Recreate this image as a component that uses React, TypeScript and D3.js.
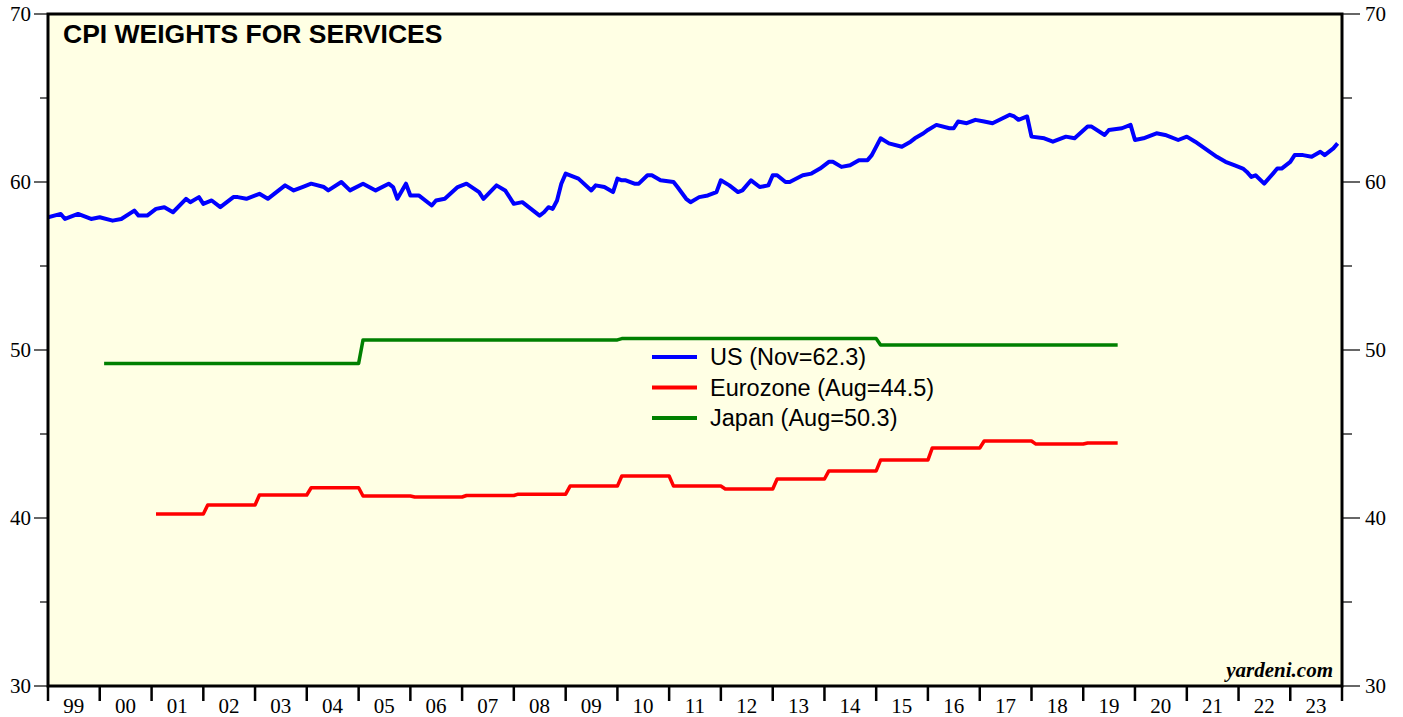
import React from "react";
import * as d3 from "d3";

// ---- DATA ----
const usDates = [
  "1998-12","1999-03","1999-04","1999-07","1999-10","1999-12","2000-03","2000-05","2000-08","2000-09","2000-11",
  "2001-01","2001-03","2001-05","2001-08","2001-09","2001-11","2001-12","2002-02","2002-04","2002-07","2002-08","2002-10",
  "2003-01","2003-03","2003-07","2003-09","2003-11","2004-01","2004-04","2004-05","2004-08","2004-10",
  "2005-01","2005-04","2005-07","2005-08","2005-09","2005-11","2005-12","2006-02","2006-05","2006-06","2006-08","2006-11",
  "2007-01","2007-04","2007-05","2007-08","2007-10","2007-12","2008-02","2008-06","2008-07","2008-08","2008-09","2008-10","2008-11","2008-12",
  "2009-01","2009-03","2009-06","2009-07","2009-09","2009-11","2009-12","2010-01","2010-02","2010-04","2010-05","2010-07","2010-08","2010-10",
  "2011-01","2011-02","2011-04","2011-05","2011-07","2011-09","2011-11","2011-12","2012-02","2012-04","2012-05","2012-07","2012-09","2012-11","2012-12",
  "2013-01","2013-03","2013-04","2013-07","2013-09","2013-11","2014-01","2014-02","2014-04","2014-06","2014-08","2014-10","2014-11",
  "2015-01","2015-03","2015-06","2015-08","2015-09","2015-11","2015-12","2016-02","2016-05","2016-06","2016-07","2016-09","2016-11",
  "2017-01","2017-03","2017-07","2017-08","2017-09","2017-11","2017-12","2018-03","2018-05","2018-08","2018-10",
  "2019-01","2019-02","2019-05","2019-06","2019-09","2019-11","2019-12","2020-02","2020-05","2020-07","2020-10","2020-12",
  "2021-02","2021-07","2021-09","2021-11","2022-01","2022-02","2022-03","2022-04","2022-06","2022-08","2022-09","2022-10","2022-12",
  "2023-01","2023-03","2023-05","2023-07","2023-08","2023-10","2023-11"
];
const usValues = [
  57.9,58.1,57.8,58.1,57.8,57.9,57.7,57.8,58.3,58.0,58.0,
  58.4,58.5,58.2,59.0,58.8,59.1,58.7,58.9,58.5,59.1,59.1,59.0,
  59.3,59.0,59.8,59.5,59.7,59.9,59.7,59.5,60.0,59.5,
  59.9,59.5,59.9,59.7,59.0,59.9,59.2,59.2,58.6,58.9,59.0,59.7,
  59.9,59.4,59.0,59.8,59.5,58.7,58.8,58.0,58.2,58.5,58.4,58.9,59.9,60.5,
  60.4,60.2,59.5,59.8,59.7,59.4,60.2,60.1,60.1,59.9,59.9,60.4,60.4,60.1,
  60.0,59.7,59.0,58.8,59.1,59.2,59.4,60.1,59.8,59.4,59.5,60.1,59.7,59.8,60.4,
  60.4,60.0,60.0,60.4,60.5,60.8,61.2,61.2,60.9,61.0,61.3,61.3,61.6,
  62.6,62.3,62.1,62.4,62.6,62.9,63.1,63.4,63.2,63.2,63.6,63.5,63.7,
  63.6,63.5,64.0,63.9,63.7,63.9,62.7,62.6,62.4,62.7,62.6,
  63.3,63.3,62.8,63.1,63.2,63.4,62.5,62.6,62.9,62.8,62.5,62.7,
  62.4,61.5,61.2,61.0,60.8,60.6,60.3,60.4,59.9,60.5,60.8,60.8,61.2,
  61.6,61.6,61.5,61.8,61.6,62.0,62.3
];

const euroStart = ["2001-01","2002-01","2003-01","2004-01","2005-01","2006-01","2007-01","2008-01","2009-01","2010-01","2011-01","2012-01","2013-01","2014-01","2015-01","2016-01","2017-01","2018-01","2019-01"];
const euroEnd = ["2001-12","2002-12","2003-12","2004-12","2005-12","2006-12","2007-12","2008-12","2009-12","2010-12","2011-12","2012-12","2013-12","2014-12","2015-12","2016-12","2017-12","2018-12","2019-08"];
const euroValues = [40.24,40.77,41.37,41.8,41.31,41.25,41.34,41.42,41.9,42.5,41.9,41.73,42.32,42.8,43.45,44.17,44.58,44.4,44.46];

const japanStart = ["2000-01","2005-01","2010-01","2015-01"];
const japanEnd = ["2004-12","2009-12","2014-12","2019-08"];
const japanValues = [49.2,50.6,50.68,50.3];

const yearLabels = ["99","00","01","02","03","04","05","06","07","08","09","10","11","12","13","14","15","16","17","18","19","20","21","22","23"];
const yTicks = [30,40,50,60,70];
const yMinor = [35,45,55,65];

const legendLabels = ["US (Nov=62.3)","Eurozone (Aug=44.5)","Japan (Aug=50.3)"];
const seriesColors = ["#0000ff","#ff0000","#008000"];

const title = "CPI WEIGHTS FOR SERVICES";
const source = "yardeni.com";

// ---- LAYOUT ----
const W = 1403, H = 717;
const L = 48, R = 1342, T = 14, B = 686;

const parse = d3.timeParse("%Y-%m");
const endOfMonth = (s: string) => d3.timeMonth.offset(parse(s) as Date, 1);

const x = d3.scaleTime().domain([new Date(1999, 0, 1), new Date(2024, 0, 1)]).range([L, R]);
const y = d3.scaleLinear().domain([30, 70]).range([B, T]);

type Pt = { d: Date; v: number };
const line = d3.line<Pt>().x(p => x(p.d)).y(p => y(p.v));

const usPts: Pt[] = usDates.map((s, i) => ({ d: endOfMonth(s), v: usValues[i] }));
const segPts = (starts: string[], ends: string[], vals: number[]): Pt[] => {
  const out: Pt[] = [];
  starts.forEach((s, i) => {
    out.push({ d: endOfMonth(s), v: vals[i] });
    out.push({ d: endOfMonth(ends[i]), v: vals[i] });
  });
  return out;
};
const euroPts = segPts(euroStart, euroEnd, euroValues);
const japanPts = segPts(japanStart, japanEnd, japanValues);

export default function App() {
  const years = d3.range(1999, 2025);
  const serif = "'Liberation Serif', 'Times New Roman', serif";
  const sans = "'Liberation Sans', Arial, sans-serif";
  return (
    <svg width={W} height={H} style={{ position: "fixed", left: 0, top: 0, background: "#fff" }}>
      <defs>
        <clipPath id="plot">
          <rect x={L} y={T} width={R - L} height={B - T} />
        </clipPath>
      </defs>
      <rect x={L} y={T} width={R - L} height={B - T} fill="#ffffe4" />

      <g clipPath="url(#plot)" fill="none" strokeLinejoin="round">
        <path d={line(japanPts) || ""} stroke={seriesColors[2]} strokeWidth={3.5} />
        <path d={line(euroPts) || ""} stroke={seriesColors[1]} strokeWidth={3.5} />
        <path d={line(usPts) || ""} stroke={seriesColors[0]} strokeWidth={4} />
      </g>

      {/* legend */}
      {legendLabels.map((lab, i) => (
        <g key={lab} transform={`translate(652, ${357 + i * 30.5})`}>
          <line x1={0} x2={45} y1={0} y2={0} stroke={seriesColors[i]} strokeWidth={4} />
          <text x={58} y={8} fontFamily={sans} fontSize={23.5} fill="#000">{lab}</text>
        </g>
      ))}

      {/* frame */}
      <rect x={L} y={T} width={R - L} height={B - T} fill="none" stroke="#000" strokeWidth={3} />

      {/* y ticks */}
      {yTicks.map(v => (
        <g key={v}>
          <line x1={34} x2={L} y1={y(v)} y2={y(v)} stroke="#000" strokeWidth={1.2} />
          <line x1={R} x2={1360} y1={y(v)} y2={y(v)} stroke="#000" strokeWidth={1.2} />
          <text x={31} y={y(v) + 7} textAnchor="end" fontFamily={serif} fontSize={21}>{v}</text>
          <text x={1365} y={y(v) + 7} textAnchor="start" fontFamily={serif} fontSize={21}>{v}</text>
        </g>
      ))}
      {yMinor.map(v => (
        <g key={v}>
          <line x1={40} x2={L} y1={y(v)} y2={y(v)} stroke="#000" strokeWidth={1.2} />
          <line x1={R} x2={1352} y1={y(v)} y2={y(v)} stroke="#000" strokeWidth={1.2} />
        </g>
      ))}

      {/* x ticks */}
      {years.map(yr => (
        <line key={yr} x1={x(new Date(yr, 0, 1))} x2={x(new Date(yr, 0, 1))} y1={B} y2={701} stroke="#000" strokeWidth={2.5} />
      ))}
      {yearLabels.map((lab, i) => (
        <text key={lab} x={x(new Date(1999 + i, 6, 1))} y={713} textAnchor="middle" fontFamily={serif} fontSize={21}>{lab}</text>
      ))}

      <text x={63} y={43} fontFamily={sans} fontWeight="bold" fontSize={26.5}>{title}</text>
      <text x={1333} y={677} textAnchor="end" fontFamily={serif} fontWeight="bold" fontStyle="italic" fontSize={21}>{source}</text>
    </svg>
  );
}
